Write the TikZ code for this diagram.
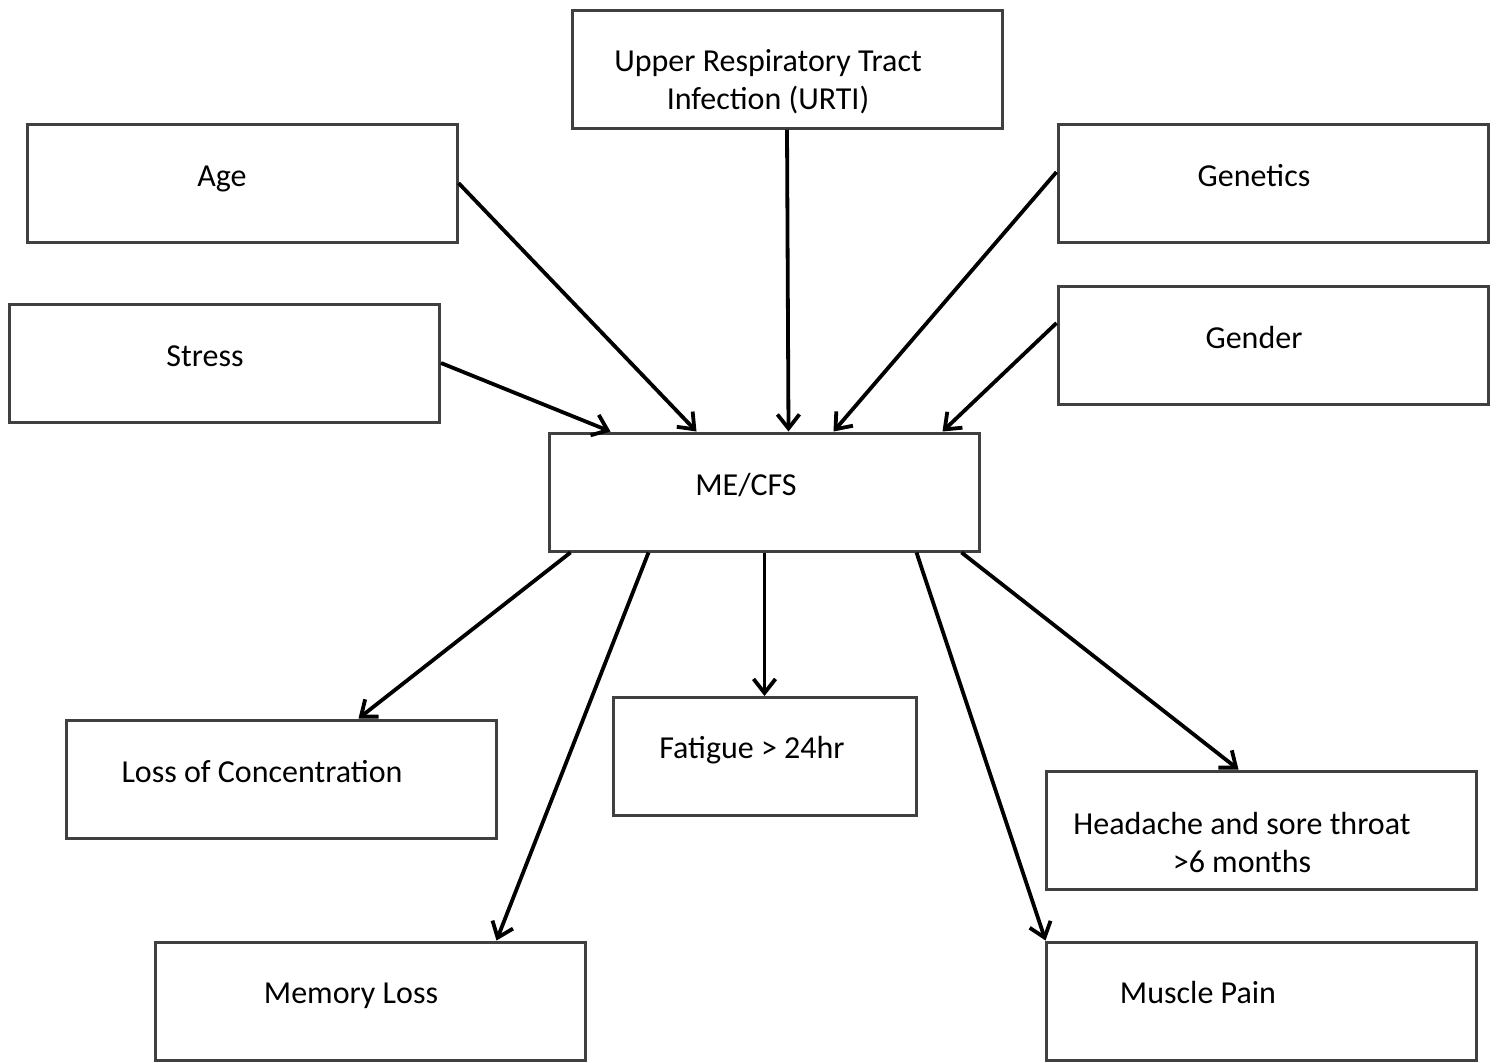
\documentclass[tikz,border=0pt]{standalone}
\usepackage{fontspec}
\setmainfont{Carlito}
\usepackage{tikz}
\usetikzlibrary{positioning,arrows.meta,calc,shadows}

\begin{document}
\begin{tikzpicture}[
    x=0.5pt, y=-0.5pt,
    box/.style={draw=black!75, line width=1.5pt, fill=white, minimum width=215pt, minimum height=59pt, inner sep=0pt,
        drop shadow={shadow xshift=0.8pt, shadow yshift=-0.8pt, fill=black, opacity=0.2}},
    txt/.style={font=\fontsize{16}{19}\selectfont, anchor=base, inner sep=0pt},
    arrow/.style={-{Straight Barb[length=7pt, width=11pt]}, line width=1.9pt, black}
]
\useasboundingbox (0,0) rectangle (1499,1062);

% Causes
\node[box] (urti) at (787,69) {};
\node[box] (age) at (242,183) {};
\node[box] (gen) at (1273,183) {};
\node[box] (stress) at (224.5,363) {};
\node[box] (gender) at (1273,345) {};
\node[txt, anchor=center, align=center] (urti-t) at (768,82) {Upper Respiratory Tract\\Infection (URTI)};
\node[txt] (age-t) at (222,186) {Age};
\node[txt] (gen-t) at (1254,186) {Genetics};
\node[txt] (stress-t) at (205,366) {Stress};
\node[txt] (gender-t) at (1254,348) {Gender};

% Condition
\node[box] (me) at (764,492) {};
\node[txt] (me-t) at (746,495) {ME/CFS};

% Symptoms
\node[box] (loss) at (281,779) {};
\node[box, minimum width=151.5pt] (fatigue) at (764.5,756.5) {};
\node[box] (head) at (1261,830) {};
\node[box] (memory) at (370,1001) {};
\node[box] (muscle) at (1261,1001) {};
\node[txt] (loss-t) at (262,782) {Loss of Concentration};
\node[txt] (fatigue-t) at (752,758) {Fatigue > 24hr};
\node[txt, anchor=center, align=center] (head-t) at (1242,842) {Headache and sore throat\\>6 months};
\node[txt] (memory-t) at (351,1003) {Memory Loss};
\node[txt] (muscle-t) at (1198,1003) {Muscle Pain};

% Arrows into ME/CFS
\draw[arrow] (age.east) -- ($(me.north west)+(149,0)$);
\draw[arrow] (urti.south) -- ($(me.north west)+(241,0)$);
\draw[arrow] ($(gen.west)+(0,-11)$) -- ($(me.north west)+(286,0)$);
\draw[arrow] ($(gender.west)+(0,-22)$) -- ($(me.north west)+(395,0)$);
\draw[arrow] (stress.east) -- ($(me.north west)+(63,0)$);

% Arrows out of ME/CFS
\draw[arrow] ($(me.south west)+(23,0)$) -- ($(loss.north west)+(294,0)$);
\draw[arrow] ($(me.south west)+(101,0)$) -- ($(memory.north west)+(343,0)$);
\draw[arrow] ($(me.south west)+(217,0)$) -- ($(fatigue.north west)+(153,0)$);
\draw[arrow] ($(me.south west)+(369,0)$) -- ($(muscle.north west)+(1,0)$);
\draw[arrow] ($(me.south west)+(414,0)$) -- ($(head.north west)+(194,0)$);

\end{tikzpicture}
\end{document}
